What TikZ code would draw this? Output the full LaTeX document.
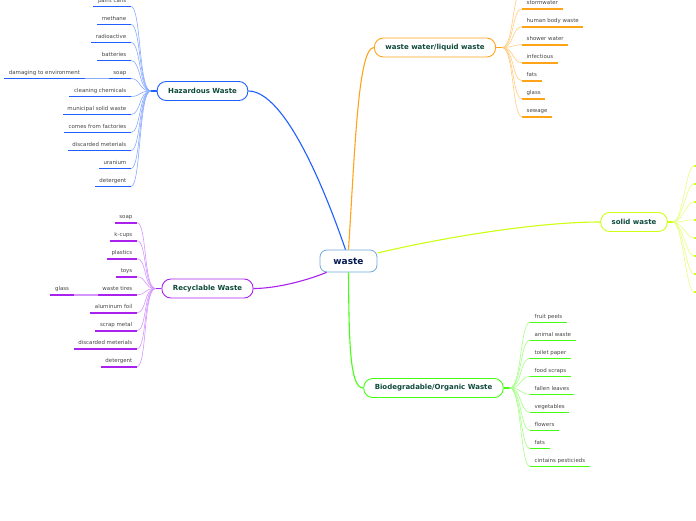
\documentclass[tikz,border=0pt]{standalone}
\usepackage{fontspec}
\setmainfont{DejaVu Sans}
\usepackage{xcolor}
\usetikzlibrary{calc}

\definecolor{hzblue}{HTML}{1F5FFF}
\definecolor{hzlight}{HTML}{8AABFF}
\definecolor{rcpurple}{HTML}{AA22EE}
\definecolor{rclight}{HTML}{D595FF}
\definecolor{wworange}{HTML}{FFA419}
\definecolor{wwlight}{HTML}{FFCC80}
\definecolor{swyellow}{HTML}{CCFF11}
\definecolor{swlight}{HTML}{E6FF80}
\definecolor{bdgreen}{HTML}{44FF11}
\definecolor{bdlight}{HTML}{A6FF88}
\definecolor{rootblue}{HTML}{6FA8DC}
\definecolor{labelgreen}{HTML}{0E4A3A}
\definecolor{leafgrey}{HTML}{444444}

\begin{document}
\begin{tikzpicture}[
        x=1pt, y=-1pt,
        topic/.style={draw, line width=0.9pt, rounded corners=9pt, fill=white, minimum height=19pt, inner xsep=11pt, text=labelgreen, font=\fontsize{7}{8}\selectfont\bfseries},
        leaf/.style={inner xsep=4.5pt, inner ysep=2.5pt, text height=4.2pt, text depth=1.3pt, text=leafgrey, font=\fontsize{5.45}{6}\selectfont},
        twig/.style={line width=0.6pt},
        uline/.style={line width=1.6pt},
        stub/.style={line width=1.5pt},
        trunk/.style={line width=1.1pt},
    ]

    \useasboundingbox (0,0) rectangle (696,520);
    \clip (0,0) rectangle (696,520);

    % ── Root ──
    \node[draw=rootblue, line width=0.8pt, rounded corners=7pt, fill=white, minimum width=57pt, minimum height=22pt, text=labelgreen!60!blue!60!black, font=\fontsize{9}{10}\selectfont\bfseries] (waste) at (348.5,261) {waste};

    % ── Topics ──
    \node[topic, draw=hzblue] (hazard) at (202.5,91) {Hazardous Waste};
    \node[topic, draw=rcpurple] (recyc) at (207.5,288.5) {Recyclable Waste};
    \node[topic, draw=wworange] (liquid) at (435,47.5) {waste water/liquid waste};
    \node[topic, draw=swyellow] (solid) at (634,222) {solid waste};
    \node[topic, draw=bdgreen] (organic) at (433.5,388) {Biodegradable/Organic Waste};

    % ── Trunks: root → topics ──
    \draw[trunk, hzblue] ($(waste.north)+(-3,0)$) .. controls (325,190) and (285,91) .. (hazard.east);
    \draw[trunk, wworange] (waste.north) .. controls (355,150) and (358,47.5) .. (liquid.west);
    \draw[trunk, swyellow] ($(waste.east)+(0,-8)$) .. controls (450,236) and (540,222) .. (solid.west);
    \draw[trunk, rcpurple] ($(waste.south west)+(7,0)$) .. controls (300,283) and (272,288.5) .. (recyc.east);
    \draw[trunk, bdgreen] (waste.south) .. controls (349,345) and (350,388) .. (organic.west);

    % ── Hazardous Waste ──
    \coordinate (hzhub) at ($(hazard.west)+(-6,0)$);
    \draw[stub, hzblue] (hazard.west) -- (hzhub);
    \foreach \t [count=\i from 0] in {paint cans, methane, radioactive, batteries, soap, cleaning chemicals, municipal solid waste, comes from factories, discarded meterials, uranium, detergent} {
        \node[leaf, anchor=south east] (hz\i) at (131, 6.5+18*\i) {\t};
        \draw[twig, hzlight] (hzhub) .. controls +(-12,0) and +(10,0) .. (hz\i.south east);
        \draw[uline, hzblue] (hz\i.south west) -- (hz\i.south east);
    }
    \node[leaf, anchor=south east] (hzdmg) at ($(hz4.south west)+(-24,0)$) {damaging to environment};
    \draw[uline, hzlight] (hzdmg.south east) -- (hz4.south west);
    \draw[uline, hzblue] (hzdmg.south west) -- (hzdmg.south east);

    % ── Recyclable Waste ──
    \coordinate (rchub) at ($(recyc.west)+(-6,0)$);
    \draw[stub, rcpurple] (recyc.west) -- (rchub);
    \foreach \t [count=\i from 0] in {soap, k-cups, plastics, toys, waste tires, aluminum foil, scrap metal, discarded meterials, detergent} {
        \node[leaf, anchor=south east] (rc\i) at (137, 222.7+18*\i) {\t};
        \draw[twig, rclight] (rchub) .. controls +(-12,0) and +(10,0) .. (rc\i.south east);
        \draw[uline, rcpurple] (rc\i.south west) -- (rc\i.south east);
    }
    \node[leaf, anchor=south east] (rcglass) at ($(rc4.south west)+(-24,0)$) {glass};
    \draw[uline, rclight] (rcglass.south east) -- (rc4.south west);
    \draw[uline, rcpurple] (rcglass.south west) -- (rcglass.south east);

    % ── Waste water / liquid waste ──
    \coordinate (wwhub) at ($(liquid.east)+(6,0)$);
    \draw[stub, wworange] (liquid.east) -- (wwhub);
    \coordinate (wwtop) at (522,-9.3);
    \draw[twig, wwlight] (wwhub) .. controls +(12,0) and +(-10,0) .. (wwtop);
    \foreach \t [count=\i from 0] in {stormwater, human body waste, shower water, infectious, fats, glass, sewage} {
        \node[leaf, anchor=south west] (ww\i) at (522, 8.7+18*\i) {\t};
        \draw[twig, wwlight] (wwhub) .. controls +(12,0) and +(-10,0) .. (ww\i.south west);
        \draw[uline, wworange] (ww\i.south west) -- (ww\i.south east);
    }

    % ── Solid waste ──
    \coordinate (swhub) at ($(solid.east)+(5,0)$);
    \draw[stub, swyellow] (solid.east) -- (swhub);
    \foreach \i in {0,...,7} {
        \coordinate (sw\i) at (694, 165.7+18.05*\i);
        \draw[twig, swlight] (swhub) .. controls +(10,0) and +(-8,0) .. (sw\i);
        \draw[uline, swyellow] (sw\i) -- +(10,0);
    }

    % ── Biodegradable / Organic Waste ──
    \coordinate (bdhub) at ($(organic.east)+(6,0)$);
    \draw[stub, bdgreen] (organic.east) -- (bdhub);
    \foreach \t [count=\i from 0] in {fruit peels, animal waste, toilet paper, food scraps, fallen leaves, vegetables, flowers, fats, cintains pesticieds} {
        \node[leaf, anchor=south west] (bd\i) at (530, 322.3+18*\i) {\t};
        \draw[twig, bdlight] (bdhub) .. controls +(12,0) and +(-10,0) .. (bd\i.south west);
        \draw[uline, bdgreen] (bd\i.south west) -- (bd\i.south east);
    }

\end{tikzpicture}
\end{document}
